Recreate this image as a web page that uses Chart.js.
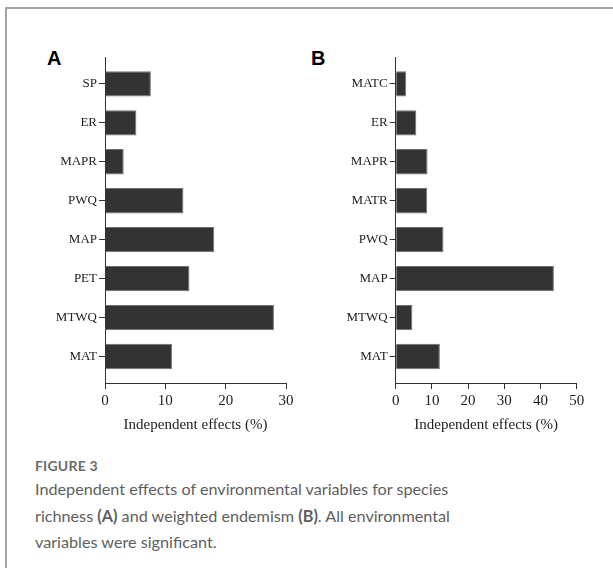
<!DOCTYPE html>
<html>
<head>
<meta charset="utf-8">
<script src="https://cdn.jsdelivr.net/npm/chart.js@4/dist/chart.umd.min.js"></script>
<style>
  html, body { margin: 0; padding: 0; background: #fff; }
  body { width: 613px; height: 568px; position: relative; overflow: hidden; }
  .frame { position: absolute; left: 5px; top: 7px; width: 800px; height: 800px; border: 2px solid #a3a3a3; box-sizing: border-box; }
  .wrap { position: absolute; }
  .panel { position: absolute; font-family: "Liberation Sans", Arial, sans-serif; font-weight: bold; font-size: 20px; color: #000; }
  .figlabel { position: absolute; left: 35px; top: 457px; font-family: Lato, "Open Sans", sans-serif; font-weight: 700; font-size: 14px; color: #6b6b6b; letter-spacing: 0.2px; }
  .caption { position: absolute; left: 35px; top: 476px; font-family: Lato, "Open Sans", sans-serif; font-size: 16.2px; line-height: 26.5px; color: #5e5e5e; white-space: nowrap; }
  .caption b { font-weight: 700; }
</style>
</head>
<body>
<div class="frame"></div>
<div class="panel" style="left:47px; top:47px;">A</div>
<div class="panel" style="left:311px; top:47px;">B</div>
<div class="wrap" style="left:40px; top:47px; width:260px; height:393px;"><canvas id="cA"></canvas></div>
<div class="wrap" style="left:320px; top:47px; width:270px; height:393px;"><canvas id="cB"></canvas></div>
<div class="figlabel">FIGURE 3</div>
<div class="caption">Independent effects of environmental variables for species<br>richness <b>(A)</b> and weighted endemism <b>(B)</b>. All environmental<br>variables were significant.</div>
<script>
// ---- data ----
const labelsA = ['SP', 'ER', 'MAPR', 'PWQ', 'MAP', 'PET', 'MTWQ', 'MAT'];
const valuesA = [7.6, 5.2, 3.1, 13.0, 18.1, 14.0, 28.0, 11.1];
const labelsB = ['MATC', 'ER', 'MAPR', 'MATR', 'PWQ', 'MAP', 'MTWQ', 'MAT'];
const valuesB = [2.9, 5.7, 8.8, 8.7, 13.2, 43.7, 4.6, 12.2];
const xTicksA = [0, 10, 20, 30];
const xTicksB = [0, 10, 20, 30, 40, 50];
const xTitle = 'Independent effects (%)';

const axisColor = '#333';
const textColor = '#222';
const serif = '"Liberation Serif", "Times New Roman", serif';

function makeChart(id, labels, values, xTicks, yAxisWidth, rightPad) {
  const data = values.map((v, i) => ({ x: v, y: i }));
  return new Chart(document.getElementById(id), {
    type: 'bar',
    data: {
      datasets: [{
        data: data,
        backgroundColor: '#333333',
        borderColor: '#707070',
        borderWidth: 1,
        categoryPercentage: 1,
        barPercentage: 0.65
      }]
    },
    options: {
      indexAxis: 'y',
      responsive: true,
      maintainAspectRatio: false,
      animation: false,
      layout: { padding: { top: 10, right: rightPad, bottom: 0, left: 0 } },
      plugins: { legend: { display: false }, tooltip: { enabled: false } },
      scales: {
        y: {
          type: 'linear',
          reverse: true,
          offset: false,
          min: -0.69,
          max: labels.length - 1 + 0.68,
          afterBuildTicks: (s) => { s.ticks = labels.map((_, i) => ({ value: i })); },
          afterFit: (s) => { s.width = yAxisWidth; },
          grid: { display: true, offset: false, drawOnChartArea: false, drawTicks: true, tickLength: 6, color: axisColor, lineWidth: 1 },
          border: { display: true, color: axisColor, width: 1 },
          ticks: {
            padding: 2,
            color: textColor,
            font: { family: serif, size: 13 },
            callback: (v) => labels[Math.round(v)]
          }
        },
        x: {
          type: 'linear',
          offset: false,
          min: xTicks[0],
          max: xTicks[xTicks.length - 1],
          afterBuildTicks: (s) => { s.ticks = xTicks.map(v => ({ value: v })); },
          afterFit: (s) => { s.height = 57; },
          grid: { display: true, offset: false, drawOnChartArea: false, drawTicks: true, tickLength: 6, color: axisColor, lineWidth: 1 },
          border: { display: true, color: axisColor, width: 1 },
          ticks: { padding: 3, color: textColor, font: { family: serif, size: 15 }, maxRotation: 0 },
          title: { display: true, text: xTitle, color: textColor, font: { family: serif, size: 15 }, padding: { top: 0, bottom: 6 } }
        }
      }
    }
  });
}

makeChart('cA', labelsA, valuesA, xTicksA, 65, 14);
makeChart('cB', labelsB, valuesB, xTicksB, 75.7, 13.3);
</script>
</body>
</html>
